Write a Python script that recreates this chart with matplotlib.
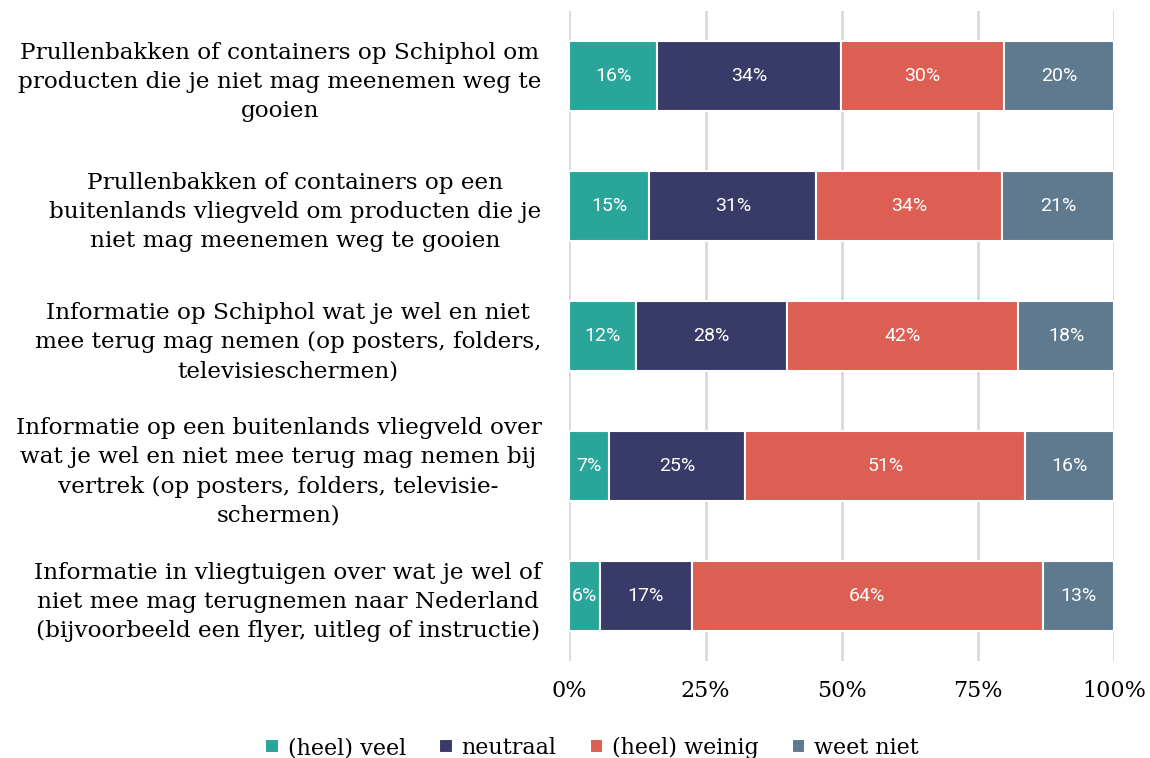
import matplotlib.pyplot as plt
import numpy as np

labels = [
    "Prullenbakken of containers op Schiphol om\nproducten die je niet mag meenemen weg te\ngooien",
    "Prullenbakken of containers op een\nbuitenlands vliegveld om producten die je\nniet mag meenemen weg te gooien",
    "Informatie op Schiphol wat je wel en niet\nmee terug mag nemen (op posters, folders,\ntelevisieschermen)",
    "Informatie op een buitenlands vliegveld over\nwat je wel en niet mee terug mag nemen bij\nvertrek (op posters, folders, televisie-\nschermen)",
    "Informatie in vliegtuigen over wat je wel of\nniet mee mag terugnemen naar Nederland\n(bijvoorbeeld een flyer, uitleg of instructie)",
]
series = ["(heel) veel", "neutraal", "(heel) weinig", "weet niet"]
veel = [16.1, 14.7, 12.3, 7.3, 5.6]
neutraal = [33.8, 30.6, 27.7, 25.0, 16.9]
weinig = [29.9, 34.0, 42.4, 51.4, 64.4]
weet_niet = [20.2, 20.7, 17.6, 16.3, 13.1]
colors = ["#2aa59a", "#383b68", "#dd5e53", "#5f7a8f"]

serif = "DejaVu Serif"

fig = plt.figure(figsize=(11.5, 7.58), dpi=100)
ax = fig.add_axes([0.495, 1 - 661 / 758, 0.474, 650 / 758])

y = np.arange(len(labels))
left = np.zeros(len(labels))
for name, vals, c in zip(series, [veel, neutraal, weinig, weet_niet], colors):
    vals = np.array(vals)
    ax.barh(y, vals, left=left, height=0.54, color=c, edgecolor="white",
            linewidth=1.5, label=name, zorder=3)
    for yi, l, v in zip(y, left, vals):
        ax.text(l + v / 2, yi, f"{int(round(v))}%", ha="center", va="center",
                color="white", fontsize=14, family="Roboto", zorder=4)
    left += vals

ax.set_xlim(0, 100)
ax.set_ylim(4.5, -0.5)
ax.set_xticks([0, 25, 50, 75, 100])
ax.set_xticklabels(["0%", "25%", "50%", "75%", "100%"], family=serif, fontsize=16)
ax.set_yticks(y)
ax.set_yticklabels(labels, family=serif, fontsize=16.7, multialignment="center",
                   linespacing=1.42)
ax.tick_params(axis="both", length=0)
ax.tick_params(axis="y", pad=20)
ax.tick_params(axis="x", pad=14)
ax.grid(axis="x", color="#d9d9d9", linewidth=2, zorder=0)
for s in ax.spines.values():
    s.set_visible(False)

leg = fig.legend(loc="lower center", bbox_to_anchor=(0.515, -0.028), ncol=4,
                 frameon=False, prop={"family": serif, "size": 16},
                 handlelength=0.6, handleheight=0.6, handletextpad=0.4,
                 columnspacing=1.5)

fig.savefig("out.png", dpi=100)
